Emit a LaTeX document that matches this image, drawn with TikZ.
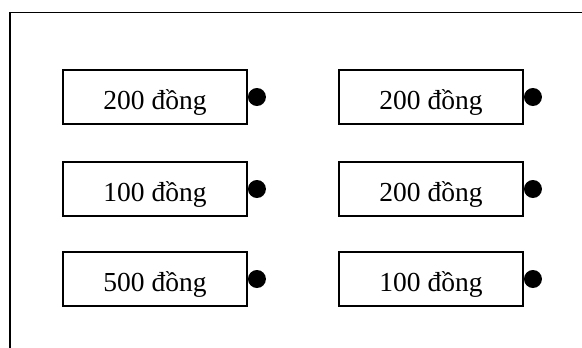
\documentclass[tikz,border=0pt]{standalone}
\usepackage{fontspec}
\setmainfont{Liberation Serif}
\usetikzlibrary{positioning}

\begin{document}
\begin{tikzpicture}[
    x=1pt, y=-1pt,
    coin/.style={draw, line width=1.5pt, minimum width=184pt, minimum height=54pt, inner sep=0pt, text height=27pt, text depth=3pt, font=\fontsize{27.5}{30}\selectfont},
    knob/.style={circle, fill=black, inner sep=0pt, minimum size=18pt},
]
\useasboundingbox (0,0) rectangle (582,348);
% frame
\draw[line width=1.5pt] (582,12.5) -- (10,12.5) -- (10,348);
% left column
\node[coin] (L1) at (155,97) {200 đồng};
\node[coin] (L2) at (155,189) {100 đồng};
\node[coin] (L3) at (155,279) {500 đồng};
% right column
\node[coin] (R1) at (431,97) {200 đồng};
\node[coin] (R2) at (431,189) {200 đồng};
\node[coin] (R3) at (431,279) {100 đồng};
% dots
\node[knob, right=0pt of L1] (dL1) {};
\node[knob, right=0pt of L2] (dL2) {};
\node[knob, right=0pt of L3] (dL3) {};
\node[knob, right=0pt of R1] (dR1) {};
\node[knob, right=0pt of R2] (dR2) {};
\node[knob, right=0pt of R3] (dR3) {};
\end{tikzpicture}
\end{document}
